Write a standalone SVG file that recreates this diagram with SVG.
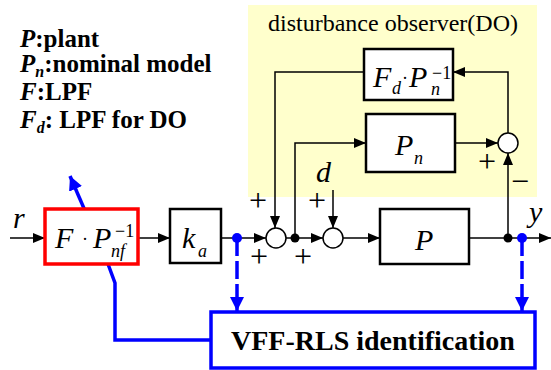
<svg xmlns="http://www.w3.org/2000/svg" width="551" height="370" viewBox="0 0 551 370">
<style>
text{font-family:"Liberation Serif","Times New Roman",serif;fill:#000}
.leg{font-size:25px;font-weight:bold}
.it{font-style:italic}
.m{font-size:30px;font-style:italic}
.sub{font-size:18px;font-style:italic}
.sup{font-size:18px;font-style:normal}
.sign{font-size:32px;text-anchor:middle}
.box{fill:#fff;stroke:#000;stroke-width:2.5}
.sum{fill:#fff;stroke:#000;stroke-width:1.5}
.ln{fill:none;stroke:#000;stroke-width:1.5}
.bl{fill:none;stroke:#0000ff;stroke-width:3.5}
.dash{fill:none;stroke:#0000ff;stroke-width:3.5;stroke-dasharray:18 5}
</style>
<defs>
<marker id="ah" markerWidth="12" markerHeight="10" refX="12" refY="5" orient="auto" markerUnits="userSpaceOnUse"><path d="M0,0 L12,5 L0,10 Z" fill="#000"/></marker>
<marker id="bh" markerWidth="14" markerHeight="14" refX="14" refY="7" orient="auto" markerUnits="userSpaceOnUse"><path d="M0,0 L14,7 L0,14 Z" fill="#0000ff"/></marker>
</defs>
<rect id="do-bg" x="248" y="5" width="289" height="192" fill="#ffffcc"/>
<text x="393" y="31" font-size="24" text-anchor="middle">disturbance observer(DO)</text>
<g id="legend">
<text class="leg" x="20" y="47"><tspan class="it">P</tspan>:plant</text>
<text class="leg" x="20" y="72"><tspan class="it">P</tspan><tspan class="it" font-size="16" dy="5">n</tspan><tspan dy="-5">:nominal model</tspan></text>
<text class="leg" x="20" y="100"><tspan class="it">F</tspan>:LPF</text>
<text class="leg" x="20" y="128"><tspan class="it">F</tspan><tspan class="it" font-size="16" dy="5">d</tspan><tspan dy="-5">: LPF for DO</tspan></text>
</g>
<g id="connectors">
<path class="ln" d="M10,238 H45" marker-end="url(#ah)"/>
<path class="ln" d="M138,238 H170" marker-end="url(#ah)"/>
<path class="ln" d="M221,238 H266" marker-end="url(#ah)"/>
<path class="ln" d="M286,238 H323" marker-end="url(#ah)"/>
<path class="ln" d="M343,238 H380" marker-end="url(#ah)"/>
<path class="ln" d="M469,238 H551" marker-end="url(#ah)"/>
<path class="ln" d="M364,72 H275 V228" marker-end="url(#ah)"/>
<path class="ln" d="M295,238 V143 H366" marker-end="url(#ah)"/>
<path class="ln" d="M455,143 H498" marker-end="url(#ah)"/>
<path class="ln" d="M508,238 V153" marker-end="url(#ah)"/>
<path class="ln" d="M508,133 V72 H453" marker-end="url(#ah)"/>
<path class="ln" d="M333,190 V228" marker-end="url(#ah)"/>
<path class="dash" d="M237,238 V311" marker-end="url(#bh)"/>
<path class="dash" d="M522,238 V311" marker-end="url(#bh)"/>
<path class="bl" d="M211,340 H115 V283 L108,264"/>
<path class="bl" d="M108,264 L70,176" marker-end="url(#bh)"/>
<circle cx="295" cy="238" r="4.5" fill="#000"/>
<circle cx="508" cy="238" r="4.5" fill="#000"/>
<circle cx="237" cy="238" r="5" fill="#0000ff"/>
<circle cx="522" cy="238" r="5" fill="#0000ff"/>
</g>
<g id="F-Pnf">
<rect x="45" y="209" width="93" height="55" fill="#fff" stroke="#ff0000" stroke-width="3.5"/>
<text class="m" x="55" y="248">F<tspan class="sup" x="82" y="245">·</tspan><tspan x="93" y="248">P</tspan><tspan class="sup" x="115" y="237">−1</tspan><tspan class="sub" x="111" y="257">nf</tspan></text>
</g>
<g id="ka">
<rect class="box" x="170" y="209" width="51" height="54"/>
<text class="m" x="182" y="248">k<tspan class="sub" x="198" y="257">a</tspan></text>
</g>
<g id="sum1"><circle class="sum" cx="276" cy="238" r="10"/></g>
<g id="sum2"><circle class="sum" cx="333" cy="238" r="10"/></g>
<g id="sum3"><circle class="sum" cx="508" cy="143" r="10"/></g>
<g id="P">
<rect class="box" x="380" y="209" width="89" height="55"/>
<text class="m" x="415" y="250">P</text>
</g>
<g id="Pn">
<rect class="box" x="366" y="114" width="89" height="58"/>
<text class="m" x="395" y="155">P<tspan class="sub" x="414" y="164">n</tspan></text>
</g>
<g id="Fd-Pn">
<rect class="box" x="364" y="49" width="89" height="51"/>
<text class="m" x="373" y="87">F<tspan class="sub" x="392" y="94">d</tspan><tspan class="sup" x="402" y="84">·</tspan><tspan x="409" y="87">P</tspan><tspan class="sup" x="432" y="79">−1</tspan><tspan class="sub" x="431" y="95">n</tspan></text>
</g>
<g id="VFF">
<rect x="211" y="312" width="324" height="56" fill="#fff" stroke="#0000ff" stroke-width="3.5"/>
<text x="373" y="350" font-size="28" font-weight="bold" text-anchor="middle">VFF-RLS identification</text>
</g>
<g id="labels">
<text class="m" x="13" y="228">r</text>
<text class="m" x="316" y="182">d</text>
<text class="m" x="529" y="222">y</text>
<text class="sign" x="258" y="211">+</text>
<text class="sign" x="259" y="267">+</text>
<text class="sign" x="317" y="211">+</text>
<text class="sign" x="303" y="267">+</text>
<text class="sign" x="487" y="172">+</text>
<text class="sign" x="520" y="192">−</text>
</g>
</svg>
